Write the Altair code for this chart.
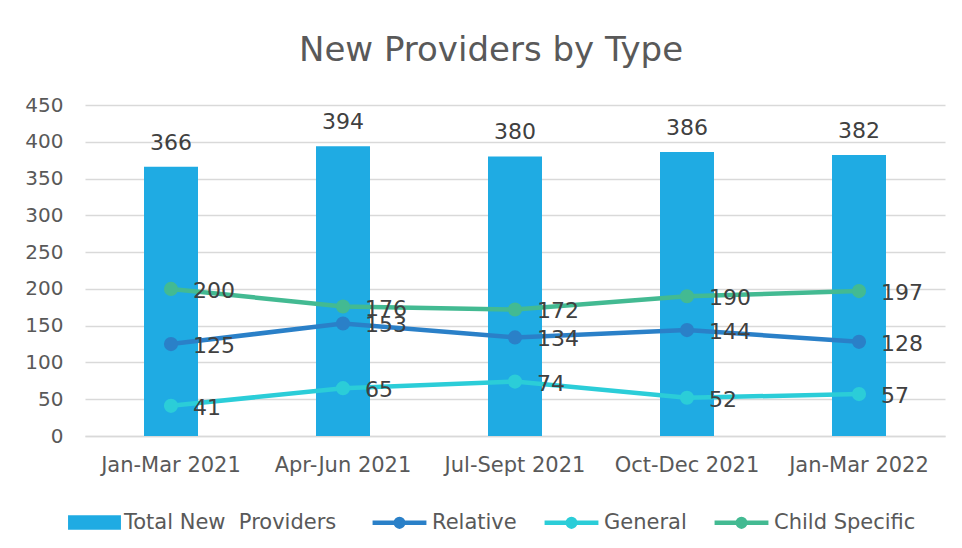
import altair as alt
import pandas as pd

periods = ["Jan-Mar 2021", "Apr-Jun 2021", "Jul-Sept 2021", "Oct-Dec 2021", "Jan-Mar 2022"]
total = [366, 394, 380, 386, 382]
relative = [125, 153, 134, 144, 128]
general = [41, 65, 74, 52, 57]
child = [200, 176, 172, 190, 197]

bar_name = "Total New\u00a0 Providers"
line_names = ["Relative", "General", "Child Specific"]
bar_color = "#1FABE3"
line_colors = ["#2A80C8", "#2BCDD8", "#43BA92"]

FONT = "DejaVu Sans"
TXT = "#595959"

bar_df = pd.DataFrame({"period": periods, "value": total, "series": [bar_name] * len(periods)})
line_df = pd.DataFrame({
    "period": periods * 3,
    "value": relative + general + child,
    "series": [line_names[0]] * 5 + [line_names[1]] * 5 + [line_names[2]] * 5,
})

x_enc = alt.X(
    "period:N", sort=periods, title=None,
    scale=alt.Scale(paddingInner=0, paddingOuter=0),
    axis=alt.Axis(labelAngle=0, labelFontSize=21, labelColor=TXT, labelFont=FONT,
                  ticks=False, grid=False, domainColor="#D9D9D9", domainWidth=1.5,
                  labelPadding=18, labelOverlap=False, labelLimit=300),
)
y_enc = alt.Y(
    "value:Q", title=None,
    scale=alt.Scale(domain=[0, 450], nice=False),
    axis=alt.Axis(values=list(range(0, 451, 50)), labelFontSize=20, labelColor=TXT,
                  labelFont=FONT, ticks=False, domain=False, gridColor="#D9D9D9",
                  gridWidth=1.5, labelPadding=22, labelOverlap=False, labelFlush=False),
)

bars = alt.Chart(bar_df).mark_bar(size=54).encode(
    x=x_enc, y=y_enc,
    color=alt.Color("series:N", scale=alt.Scale(domain=[bar_name], range=[bar_color]),
                    legend=alt.Legend(title=None, orient="none", legendX=-17, legendY=391,
                                      symbolType="M-1,-0.27H1V0.27H-1Z",
                                      symbolSize=2800, labelFontSize=21, labelColor=TXT,
                                      labelFont=FONT, symbolStrokeWidth=0, labelLimit=400,
                                      labelOffset=3)),
)
bar_text = alt.Chart(bar_df).mark_text(baseline="bottom", dy=-12, fontSize=22, color="#404040", font=FONT).encode(
    x=x_enc, y=y_enc, text="value:Q")

lines = alt.Chart(line_df).mark_line(strokeWidth=4.5, point=alt.OverlayMarkDef(size=200, filled=True)).encode(
    x=x_enc, y=y_enc,
    color=alt.Color("series:N", sort=line_names,
                    scale=alt.Scale(domain=line_names, range=line_colors),
                    legend=alt.Legend(title=None, orient="none", direction="horizontal",
                                      legendX=285, legendY=388,
                                      symbolType="M-1,0H1M0.14,0A0.14,0.14,0,1,1,-0.14,0A0.14,0.14,0,1,1,0.14,0",
                                      symbolSize=2900, symbolStrokeWidth=4.5, labelFontSize=21,
                                      labelColor=TXT, labelFont=FONT, columnPadding=18,
                                      labelOffset=3, labelLimit=400)),
)
line_text = alt.Chart(line_df).mark_text(align="left", dx=22, dy=2, fontSize=22, color="#404040", font=FONT).encode(
    x=x_enc, y=y_enc, text="value:Q")

chart = alt.layer(bars, bar_text, lines, line_text).resolve_scale(color="independent").resolve_legend(
    color="independent"
).properties(
    width=860, height=331,
    title=alt.Title("New Providers by Type", fontSize=34, color=TXT, font=FONT, fontWeight="normal",
                    offset=27, dx=-24),
    autosize=alt.AutoSizeParams(type="none"),
    padding={"left": 77, "top": 97, "right": 9, "bottom": 100},
).configure_view(stroke=None)

chart.save("out.html", embed_options={"renderer": "svg", "actions": False})
